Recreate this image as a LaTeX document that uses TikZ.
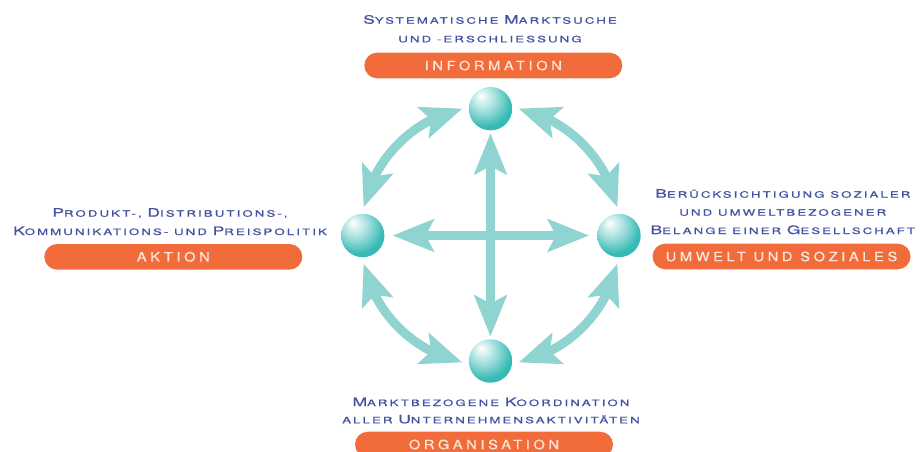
\documentclass[tikz,border=0pt]{standalone}
\usepackage{fontspec}
\usetikzlibrary{arrows.meta,bending}

% extended, letter-spaced sans for the captions and the pill labels
\newfontfamily\lblfont[FakeStretch=1.5,LetterSpace=24,FakeBold=0.8]{TeX Gyre Heros}
\newfontfamily\pillfont[FakeStretch=1.15,LetterSpace=28,FakeBold=0.8]{TeX Gyre Heros}

\definecolor{labelblue}{HTML}{4351A1}
\definecolor{pillorange}{HTML}{F26B3A}
\definecolor{pilltext}{HTML}{FCE6DA}
\definecolor{linkteal}{HTML}{8FD4D0}
\definecolor{ballteal}{HTML}{22B3AD}

% larger capital for the small-caps look of the captions
\newcommand\Bc[1]{{\fontsize{11.6}{14}\selectfont #1}}

% glossy sphere, light from the upper left
\pgfdeclareradialshading{glossball}{\pgfpoint{-11bp}{15bp}}{%
  color(0bp)=(white);
  color(3bp)=(white!92!ballteal);
  color(16bp)=(ballteal!45!white);
  color(30bp)=(ballteal!90!white);
  color(50bp)=(ballteal);
  color(60bp)=(ballteal!90!black);
  color(68bp)=(ballteal!78!white);
  color(80bp)=(ballteal!78!white)}

\tikzset{
  sphere/.style={circle, minimum size=43.4pt, inner sep=0pt, shading=glossball},
  pill/.style={fill=pillorange, rounded corners=12.8pt, minimum width=258pt,
    minimum height=25.6pt, inner sep=0pt, text=pilltext,
    font={\pillfont\fontsize{12.8}{14}\selectfont}},
  caption/.style={anchor=base, inner sep=0pt, text=labelblue,
    font={\lblfont\fontsize{8.8}{12}\selectfont}},
  link/.style={draw=linkteal, line width=9pt,
    {Stealth[length=41pt,width=32pt,inset=8pt]}-{Stealth[length=41pt,width=32pt,inset=8pt]}}
}

\begin{document}
\begin{tikzpicture}[x=1pt,y=-1pt]
\useasboundingbox (0,0) rectangle (922,452);

% centre of the cycle
\coordinate (C) at (490.5,235.5);

% the four spheres
\node[sphere] (sT) at (490.5,108.7) {};
\node[sphere] (sL) at (362.7,235.5) {};
\node[sphere] (sR) at (619.0,235.5) {};
\node[sphere] (sB) at (490.5,361.0) {};

% cross of straight double arrows
\draw[link, shorten <=8pt, shorten >=8pt] (sL) -- (sR);
\draw[link, shorten <=2.5pt, shorten >=2.5pt] (sT) -- (sB);

% ends of the four curved arrows
\coordinate (tlA) at ([shift={(C)}]-102.5:130);
\coordinate (trA) at ([shift={(C)}]-77.5:130);
\coordinate (brA) at ([shift={(C)}]12.5:130);
\coordinate (blA) at ([shift={(C)}]102.5:130);

% curved double arrows around the cycle
\draw[link] (tlA) arc[start angle=-102.5, end angle=-167.5, radius=130];
\draw[link] (trA) arc[start angle=-77.5, end angle=-12.5, radius=130];
\draw[link] (brA) arc[start angle=12.5, end angle=77.5, radius=130];
\draw[link] (blA) arc[start angle=102.5, end angle=167.5, radius=130];

% top: information
\node[caption] (t1) at (490,23.7) {\Bc{S}YSTEMATISCHE \Bc{M}ARKTSUCHE};
\node[caption] (t2) at (490,42.3) {UND -ERSCHLIESSUNG};
\node[pill] (pT) at (493.3,65.5) {INFORMATION};

% left: action
\node[caption] (l1) at (170,216.7) {\Bc{P}RODUKT-, \Bc{D}ISTRIBUTIONS-,};
\node[caption] (l2) at (170,235) {\Bc{K}OMMUNIKATIONS- UND \Bc{P}REISPOLITIK};
\node[pill] (pL) at (173.3,256.8) {AKTION};

% right: environment and society
\node[caption] (r1) at (782.8,197.7) {\Bc{B}ERÜCKSICHTIGUNG SOZIALER};
\node[caption] (r2) at (782.8,215.7) {UND UMWELTBEZOGENER};
\node[caption] (r3) at (782.8,234) {\Bc{B}ELANGE EINER \Bc{G}ESELLSCHAFT};
\node[pill] (pR) at (781.5,256.5) {UMWELT UND SOZIALES};

% bottom: organisation
\node[caption] (b1) at (491,406) {\Bc{M}ARKTBEZOGENE \Bc{K}OORDINATION};
\node[caption] (b2) at (491,423.3) {ALLER \Bc{U}NTERNEHMENSAKTIVITÄTEN};
\node[pill] (pB) at (484,444.5) {ORGANISATION};
\end{tikzpicture}
\end{document}
